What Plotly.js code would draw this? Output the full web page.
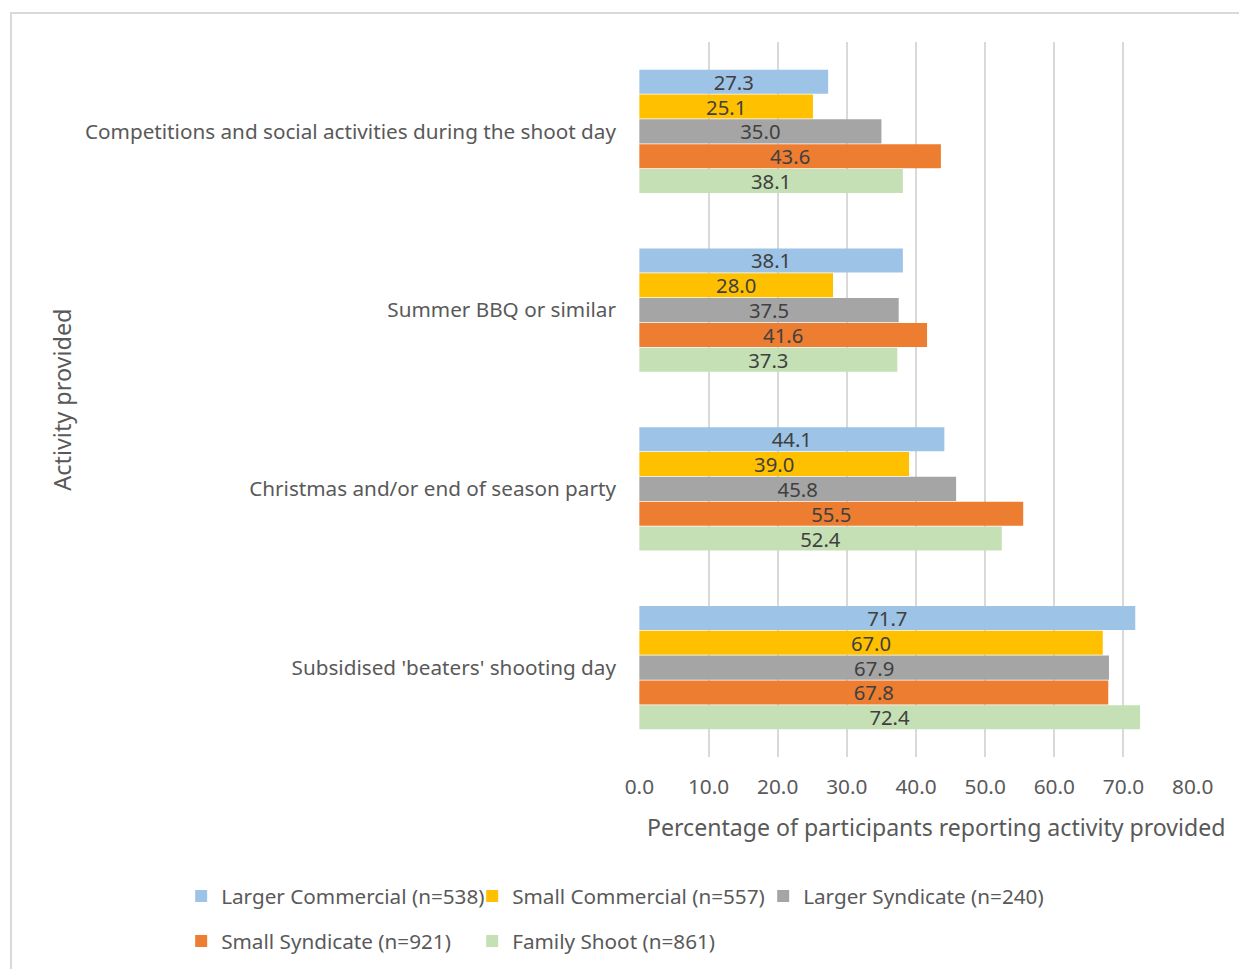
<!DOCTYPE html>
<html>
<head>
<meta charset="utf-8">
<script src="https://cdn.plot.ly/plotly-3.0.1.min.js"></script>
<style>
  html, body { margin: 0; padding: 0; background: #fff; }
  #wrap { position: relative; width: 1239px; height: 969px; overflow: hidden; }
  #frame { position: absolute; left: 10px; top: 12px; width: 1240px; height: 970px; border: 2px solid #d9d9d9; box-sizing: border-box; pointer-events: none; z-index: 5; }
  #chart { position: absolute; left: 0; top: 0; width: 1239px; height: 969px; }
</style>
</head>
<body>
<div id="wrap">
  <div id="chart"></div>
  <div id="frame"></div>
</div>
<script>
const categories = [
  "Competitions and social activities during the shoot day",
  "Summer BBQ or similar",
  "Christmas and/or end of season party",
  "Subsidised 'beaters' shooting day"
];
const seriesNames = [
  "Larger Commercial (n=538)",
  "Small Commercial (n=557)",
  "Larger Syndicate (n=240)",
  "Small Syndicate (n=921)",
  "Family Shoot (n=861)"
];
const largerCommercial = [27.3, 38.1, 44.1, 71.7];
const smallCommercial  = [25.1, 28.0, 39.0, 67.0];
const largerSyndicate  = [35.0, 37.5, 45.8, 67.9];
const smallSyndicate   = [43.6, 41.6, 55.5, 67.8];
const familyShoot      = [38.1, 37.3, 52.4, 72.4];
const seriesColors = ["#9DC3E6", "#FFC000", "#A5A5A5", "#ED7D31", "#C5E0B4"];
const xTickVals = [0, 10, 20, 30, 40, 50, 60, 70, 80];

const FONT = "Noto Sans, Open Sans, sans-serif";
const seriesValues = [largerCommercial, smallCommercial, largerSyndicate, smallSyndicate, familyShoot];
const legendIds = ["legend", "legend", "legend", "legend2", "legend2"];

const traces = seriesValues.map((vals, i) => ({
  type: "bar",
  orientation: "h",
  name: seriesNames[i],
  y: categories,
  x: vals,
  marker: { color: seriesColors[i], line: { width: 0 } },
  texttemplate: "%{x:.1f}",
  textposition: "inside",
  insidetextanchor: "middle",
  textangle: 0,
  constraintext: "none",
  textfont: { family: FONT, size: 20.3, color: "#404040" },
  legend: legendIds[i],
  hoverinfo: "x+name"
}));

const legendBase = {
  orientation: "h",
  xref: "paper", yref: "paper",
  xanchor: "left", yanchor: "middle",
  font: { family: FONT, size: 20.7, color: "#595959" },
  bgcolor: "rgba(0,0,0,0)",
  borderwidth: 0,
  entrywidth: 246,
  entrywidthmode: "pixels",
  traceorder: "normal"
};

const layout = {
  width: 1239,
  height: 969,
  paper_bgcolor: "#ffffff",
  plot_bgcolor: "#ffffff",
  font: { family: FONT, color: "#595959" },
  margin: { l: 639, r: 46, t: 42, b: 212, autoexpand: false },
  barmode: "group",
  bargap: 0.305,
  bargroupgap: 0.03,
  showlegend: true,
  legend: Object.assign({}, legendBase, { x: -0.8264, y: -0.1944 }),
  legend2: Object.assign({}, legendBase, { x: -0.8264, y: -0.2573 }),
  xaxis: {
    range: [-0.05, 80.05],
    tickvals: xTickVals,
    tickformat: ".1f",
    showgrid: true,
    gridcolor: "#D9D9D9",
    gridwidth: 2,
    zeroline: false,
    showline: false,
    ticks: "",
    ticklabelstandoff: 15,
    tickfont: { family: FONT, size: 20.8, color: "#595959" },
    fixedrange: true
  },
  yaxis: {
    type: "category",
    autorange: "reversed",
    showgrid: false,
    zeroline: false,
    showline: false,
    ticks: "",
    ticklabelstandoff: 22,
    tickfont: { family: FONT, size: 20.7, color: "#595959" },
    fixedrange: true
  },
  annotations: [
    {
      text: "Percentage of participants reporting activity provided",
      xref: "paper", yref: "paper",
      x: 0.536, y: -0.0979,
      xanchor: "center", yanchor: "middle",
      showarrow: false,
      font: { family: FONT, size: 23.1, color: "#595959" }
    },
    {
      text: "Activity provided",
      xref: "paper", yref: "paper",
      x: -1.043, y: 0.5,
      xanchor: "center", yanchor: "middle",
      textangle: -90,
      showarrow: false,
      font: { family: FONT, size: 23.4, color: "#595959" }
    }
  ]
};

Plotly.newPlot("chart", traces, layout, { displayModeBar: false, staticPlot: true });
</script>
</body>
</html>
